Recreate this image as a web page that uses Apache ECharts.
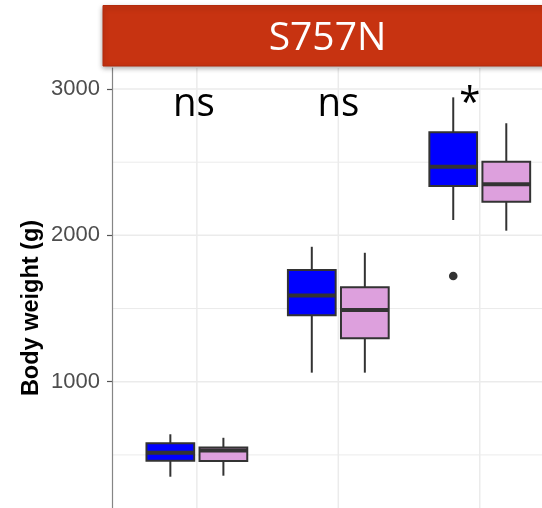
<!DOCTYPE html>
<html>
<head>
<meta charset="utf-8">
<script src="https://cdn.jsdelivr.net/npm/echarts@6/dist/echarts.min.js"></script>
<style>
  html, body { margin: 0; padding: 0; background: #ffffff; }
  #chart { width: 542px; height: 508px; }
</style>
</head>
<body>
<div id="chart"></div>
<script>
// Body weight per age group, two genotypes dodged inside each group.
const groups = [1, 2, 3];

// Five-number summaries per group: [min, Q1, median, Q3, max]
const blueStats = [
  [351, 460, 515, 579, 641],
  [1062, 1454, 1590, 1763, 1922],
  [2105, 2337, 2469, 2704, 2943]
];
const pinkStats = [
  [358, 458, 530, 550, 617],
  [1062, 1297, 1490, 1645, 1881],
  [2032, 2230, 2349, 2503, 2766]
];

// Outliers: [group, value]
const blueOutliers = [[3, 1722]];
const pinkOutliers = [];

// Pairwise comparison result above each group
const compareLabels = ['ns', 'ns', '*'];
const compareLabelY = 2892;

// Axis ticks and grid
const yTickValues = [1000, 2000, 3000];
const yMajorGrid = [1000, 2000, 3000];
const yMinorGrid = [500, 1500, 2500];

const panelTitle = 'S757N';
const yAxisTitle = 'Body weight (g)';

// ---- layout constants ----
const DODGE = 0.1875;      // half the dodge width, in group units
const BOX_W = 0.3375;      // box width, in group units
const X_MIN = 0.4, X_MAX = 3.44;
const Y_MIN = -136, Y_MAX = 3143.5;
const OUTLINE = '#333333';
const GRID_COLOR = '#ebebeb';
const labelNudge = [-3, 0, -10]; // px

const chart = echarts.init(document.getElementById('chart'), null, { renderer: 'canvas' });

function boxRenderer(offset, fill) {
  return function (params, api) {
    const g = api.value(0);
    const cx = api.coord([g + offset, 0])[0];
    const half = api.size([BOX_W, 0])[0] / 2;
    const yLo = api.coord([g, api.value(1)])[1];
    const yQ1 = api.coord([g, api.value(2)])[1];
    const yMed = api.coord([g, api.value(3)])[1];
    const yQ3 = api.coord([g, api.value(4)])[1];
    const yHi = api.coord([g, api.value(5)])[1];
    return {
      type: 'group',
      children: [
        { type: 'line', shape: { x1: cx, y1: yHi, x2: cx, y2: yLo },
          style: { stroke: OUTLINE, lineWidth: 2 } },
        { type: 'rect', shape: { x: cx - half, y: yQ3, width: half * 2, height: yQ1 - yQ3 },
          style: { fill: fill, stroke: OUTLINE, lineWidth: 2 } },
        { type: 'line', shape: { x1: cx - half, y1: yMed, x2: cx + half, y2: yMed },
          style: { stroke: OUTLINE, lineWidth: 4 } }
      ]
    };
  };
}

function outlierRenderer(offset) {
  return function (params, api) {
    const p = api.coord([api.value(0) + offset, api.value(1)]);
    return { type: 'circle', shape: { cx: p[0], cy: p[1], r: 4.3 }, style: { fill: OUTLINE } };
  };
}

function hLineRenderer(width) {
  return function (params, api) {
    const cs = params.coordSys;
    const y = api.coord([groups[0], api.value(0)])[1];
    return { type: 'line', shape: { x1: cs.x, y1: y, x2: cs.x + cs.width, y2: y },
             style: { stroke: GRID_COLOR, lineWidth: width } };
  };
}

function vLineRenderer(params, api) {
  const cs = params.coordSys;
  const x = api.coord([api.value(0), 0])[0];
  return { type: 'line', shape: { x1: x, y1: cs.y, x2: x, y2: cs.y + cs.height },
           style: { stroke: GRID_COLOR, lineWidth: 1.5 } };
}

const option = {
  backgroundColor: '#ffffff',
  animation: false,
  // the panel runs past the bottom edge of the page
  grid: { left: 112, width: 430, top: 68, height: 480, containLabel: false, outerBoundsMode: 'none' },
  xAxis: {
    type: 'value', min: X_MIN, max: X_MAX, show: false
  },
  yAxis: {
    type: 'value', min: Y_MIN, max: Y_MAX,
    name: yAxisTitle,
    nameLocation: 'middle',
    nameGap: 68,
    nameMoveOverlap: false,
    nameTextStyle: { fontFamily: 'Liberation Sans', fontWeight: 'bold', fontSize: 23.5, color: '#000000' },
    axisLine: { show: true, lineStyle: { color: '#858585', width: 1.2 } },
    axisTick: { show: true, length: 5, customValues: yTickValues, lineStyle: { color: '#555555', width: 1.2 } },
    axisLabel: { customValues: yTickValues, margin: 12, fontFamily: 'Liberation Sans', fontSize: 22,
                 color: '#4d4d4d', formatter: v => String(v) },
    splitLine: { show: false }
  },
  series: [
    { type: 'custom', name: 'minor grid', silent: true, z: 0,
      data: yMinorGrid.map(v => [v]), encode: { y: 0 }, renderItem: hLineRenderer(1) },
    { type: 'custom', name: 'major grid', silent: true, z: 0,
      data: yMajorGrid.map(v => [v]), encode: { y: 0 }, renderItem: hLineRenderer(1.5) },
    { type: 'custom', name: 'group grid', silent: true, z: 0,
      data: groups.map(g => [g]), encode: { x: 0 }, renderItem: vLineRenderer },
    { type: 'custom', name: 'blue', z: 2,
      data: groups.map((g, i) => [g].concat(blueStats[i])),
      encode: { x: 0, y: [1, 2, 3, 4, 5] },
      renderItem: boxRenderer(-DODGE, '#0000ff') },
    { type: 'custom', name: 'pink', z: 2,
      data: groups.map((g, i) => [g].concat(pinkStats[i])),
      encode: { x: 0, y: [1, 2, 3, 4, 5] },
      renderItem: boxRenderer(DODGE, '#dda0dd') },
    { type: 'custom', name: 'blue outliers', z: 3,
      data: blueOutliers, encode: { x: 0, y: 1 }, renderItem: outlierRenderer(-DODGE) },
    { type: 'custom', name: 'pink outliers', z: 3,
      data: pinkOutliers, encode: { x: 0, y: 1 }, renderItem: outlierRenderer(DODGE) },
    { type: 'custom', name: 'comparisons', z: 4, silent: true,
      data: groups.map(g => [g, compareLabelY]), encode: { x: 0, y: 1 },
      renderItem: function (params, api) {
        const p = api.coord([api.value(0), api.value(1)]);
        return {
          type: 'text', x: p[0] + labelNudge[params.dataIndex], y: p[1], scaleX: 0.96,
          style: { text: compareLabels[params.dataIndex], fill: '#000000',
                   font: '40px "Open Sans"', align: 'center', verticalAlign: 'middle' }
        };
      } }
  ],
  graphic: [
    { type: 'rect', z: 100,
      shape: { x: 103, y: 5.5, width: 450, height: 60.5 },
      style: { fill: '#c73311', stroke: '#b22a0c', lineWidth: 1,
               shadowBlur: 5, shadowOffsetY: 2, shadowColor: 'rgba(0,0,0,0.35)' } },
    { type: 'text', z: 101, x: 327.5, y: 39,
      style: { text: panelTitle, fill: '#ffffff', font: '39px "Open Sans"',
               align: 'center', verticalAlign: 'middle' } }
  ]
};

chart.setOption(option);
</script>
</body>
</html>
